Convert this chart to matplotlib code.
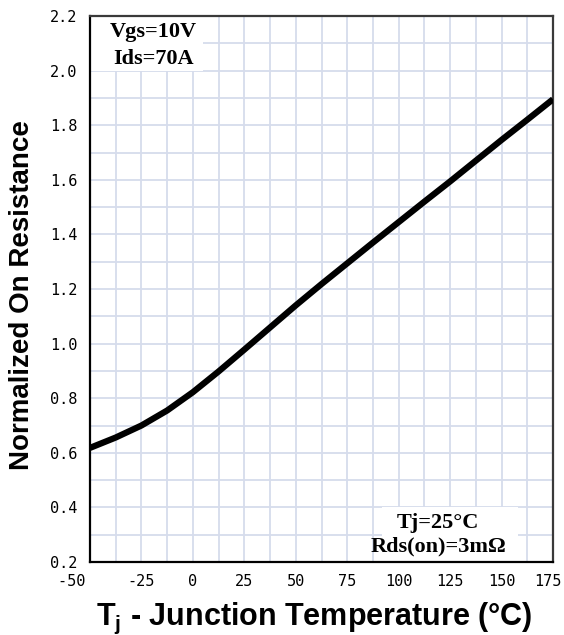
import numpy as np
import matplotlib
matplotlib.use('Agg')
from matplotlib import pyplot as plt
from matplotlib.ticker import MultipleLocator, FormatStrFormatter, FuncFormatter
from matplotlib.patches import Rectangle

# curve
temp = [-50, -37.5, -25, -12.5, 0, 12.5, 25, 37.5, 50, 62.5, 75, 87.5,
        100, 112.5, 125, 137.5, 150, 162.5, 175]
rnorm = [0.618, 0.656, 0.700, 0.755, 0.822, 0.898, 0.978, 1.059, 1.140,
         1.218, 1.294, 1.370, 1.445, 1.520, 1.594, 1.670, 1.746, 1.820, 1.895]

cond_top = ['Vgs=10V', 'Ids=70A']
cond_bot = ['Tj=25\u00b0C', 'Rds(on)=3m\u03a9']

plt.rcParams['mathtext.default'] = 'regular'


def xfmt(v, pos):
    # -50 sits left of its gridline in the original, 175 is placed by hand below
    if v == -50:
        return '-50    '
    if v == 175:
        return ''
    return '%d' % v


fig = plt.figure(figsize=(5.64, 6.35), dpi=100)
ax = fig.add_axes([90/564, 73/635, 463/564, 546/635])

ax.plot(temp, rnorm, color='black', lw=4.5, solid_capstyle='butt', zorder=3)

ax.set_xlim(-50, 175)
ax.set_ylim(0.2, 2.2)
ax.xaxis.set_major_locator(MultipleLocator(25))
ax.xaxis.set_minor_locator(MultipleLocator(12.5))
ax.xaxis.set_major_formatter(FuncFormatter(xfmt))
ax.yaxis.set_major_locator(MultipleLocator(0.2))
ax.yaxis.set_minor_locator(MultipleLocator(0.1))
ax.yaxis.set_major_formatter(FormatStrFormatter('%.1f'))
ax.grid(which='both', color='#d6dcec', lw=1.3)
ax.set_axisbelow(True)
ax.tick_params(which='both', length=0)
ax.tick_params(axis='x', pad=9)
ax.tick_params(axis='y', pad=9)
for lab in ax.get_xticklabels() + ax.get_yticklabels():
    lab.set_fontfamily('DejaVu Sans Mono')
    lab.set_fontsize(11)

# last x label, nudged so it stays inside the figure
ax.annotate('175', xy=(175, 0), xycoords=('data', 'axes fraction'),
            xytext=(-3.5, -9), textcoords='offset points', ha='center', va='top',
            family='DejaVu Sans Mono', fontsize=11)

for side in ['left', 'bottom']:
    ax.spines[side].set_color('black')
    ax.spines[side].set_linewidth(1.6)
for side in ['top', 'right']:
    ax.spines[side].set_color('#3a3a3a')
    ax.spines[side].set_linewidth(1.6)

# white patches behind the condition notes
ax.add_patch(Rectangle((-50, 2.0), 55, 0.2, facecolor='white', edgecolor='none', zorder=1))
ax.add_patch(Rectangle((92, 0.2), 66, 0.2, facecolor='white', edgecolor='none', zorder=1))

tfont = dict(family='Liberation Serif', weight='bold', fontsize=16, zorder=2)
ax.text(0.043, 0.961, cond_top[0], transform=ax.transAxes, ha='left', va='baseline', **tfont)
ax.text(0.050, 0.913, cond_top[1], transform=ax.transAxes, ha='left', va='baseline', **tfont)
ax.text(0.752, 0.062, cond_bot[0], transform=ax.transAxes, ha='center', va='baseline', **tfont)
ax.text(0.752, 0.019, cond_bot[1], transform=ax.transAxes, ha='center', va='baseline', **tfont)

fig.text(22/564, 1 - 295/635, 'Normalized On Resistance', rotation=90,
         ha='center', va='center', family='Liberation Sans', weight='bold', fontsize=20)
fig.text(314/564, 1 - 625/635, 'T$_{j}$ - Junction Temperature (\u00b0C)',
         ha='center', va='baseline', family='Liberation Sans', weight='bold', fontsize=22)

plt.savefig('out.png', dpi=100)
